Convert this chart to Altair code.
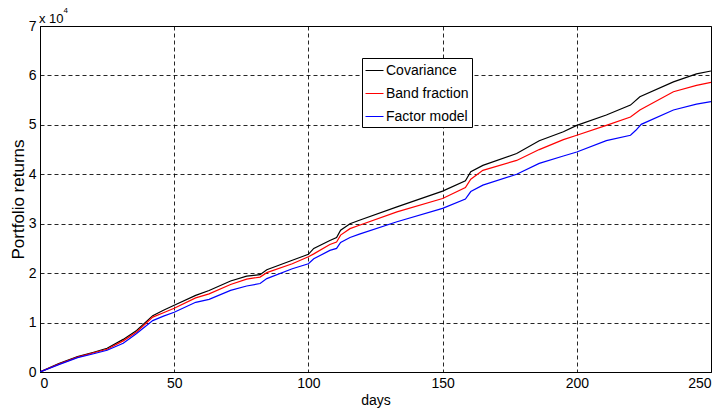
import altair as alt
import pandas as pd

series_names = ["Covariance", "Band fraction", "Factor model"]
series_colors = ["#000000", "#ff0000", "#0000ff"]

cov_days = [0, 7, 14, 20, 25, 31, 36, 42, 46, 50, 58, 63, 71, 77, 82, 84.5, 94, 100, 102, 108, 110.5, 112, 115.5, 119, 133, 150, 158.5, 160.5, 165, 177.6, 186, 195, 200, 211, 220, 223.5, 236, 244.6, 250]
cov_vals = [0, 0.17, 0.31, 0.40, 0.48, 0.66, 0.84, 1.14, 1.25, 1.35, 1.55, 1.65, 1.84, 1.94, 1.97, 2.07, 2.26, 2.38, 2.50, 2.66, 2.72, 2.87, 3.00, 3.07, 3.34, 3.66, 3.87, 4.05, 4.18, 4.42, 4.68, 4.86, 4.99, 5.20, 5.40, 5.57, 5.87, 6.03, 6.09]

band_days = [0, 7, 14, 20, 25, 31, 36, 42, 46, 50, 58, 63, 71, 77, 82, 84.5, 94, 100, 102, 108, 110.5, 112, 115.5, 119, 133, 150, 158.5, 160.5, 165, 177.6, 186, 195, 200, 211, 220, 223.5, 236, 244.6, 250]
band_vals = [0, 0.16, 0.30, 0.39, 0.46, 0.63, 0.81, 1.11, 1.20, 1.29, 1.50, 1.58, 1.77, 1.88, 1.92, 2.01, 2.19, 2.33, 2.39, 2.58, 2.63, 2.77, 2.90, 2.97, 3.24, 3.51, 3.73, 3.90, 4.08, 4.28, 4.50, 4.70, 4.79, 4.99, 5.16, 5.30, 5.67, 5.80, 5.86]

fac_days = [0, 7, 14, 20, 25, 31, 36, 42, 46, 50, 58, 63, 71, 77, 82, 84.5, 94, 100, 102, 108, 110.5, 112, 115.5, 119, 133, 150, 158.5, 160.5, 165, 177.6, 186, 195, 200, 211, 220, 222, 224, 236, 244.6, 250]
fac_vals = [0, 0.15, 0.29, 0.37, 0.44, 0.58, 0.78, 1.04, 1.13, 1.21, 1.41, 1.47, 1.65, 1.74, 1.79, 1.89, 2.09, 2.19, 2.29, 2.46, 2.50, 2.62, 2.72, 2.79, 3.04, 3.31, 3.50, 3.65, 3.78, 4.00, 4.22, 4.37, 4.45, 4.68, 4.79, 4.89, 5.01, 5.30, 5.42, 5.47]

x_ticks = [0, 50, 100, 150, 200, 250]
y_ticks = [0, 1, 2, 3, 4, 5, 6, 7]

rows = []
for name, days, vals in zip(series_names, [cov_days, band_days, fac_days], [cov_vals, band_vals, fac_vals]):
    for d, v in zip(days, vals):
        rows.append({"day": d, "ret": v, "series": name})
df = pd.DataFrame(rows)

FONT = "Liberation Sans"

lines = alt.Chart(df).mark_line(strokeWidth=1.2, clip=True).encode(
    x=alt.X("day:Q", scale=alt.Scale(domain=[0, 250], nice=False),
            axis=alt.Axis(values=x_ticks, title="days", format="d")),
    y=alt.Y("ret:Q", scale=alt.Scale(domain=[0, 7], nice=False),
            axis=alt.Axis(values=y_ticks, title="Portfolio returns", format="d")),
    color=alt.Color("series:N",
                    scale=alt.Scale(domain=series_names, range=series_colors),
                    legend=alt.Legend(title=None, orient="none", legendX=322, legendY=32,
                                      strokeColor="black", fillColor="white", padding=3,
                                      symbolType="stroke", symbolStrokeWidth=1, symbolSize=324,
                                      labelFontSize=14, labelFont=FONT, labelColor="black",
                                      labelOffset=2, rowPadding=6, cornerRadius=0)),
    detail="series:N",
)

exp_text = ["x 10"]
sup_text = ["4"]
exp = alt.Chart(pd.DataFrame({"t": exp_text})).mark_text(
    align="left", baseline="alphabetic", fontSize=13, font=FONT, color="black"
).encode(text="t:N", x=alt.value(-1), y=alt.value(-3))
sup = alt.Chart(pd.DataFrame({"t": sup_text})).mark_text(
    align="left", baseline="alphabetic", fontSize=8, font=FONT, color="black"
).encode(text="t:N", x=alt.value(23.5), y=alt.value(-13))

chart = alt.layer(lines, exp, sup).properties(
    width=671, height=346,
    autosize=alt.AutoSizeParams(type="none"),
    padding={"left": 40, "top": 26, "right": 11, "bottom": 42},
    background="white",
).configure_view(
    stroke="black", strokeWidth=1
).configure_axis(
    domainColor="black", domainWidth=1,
    grid=True, gridColor="black", gridDash=[4, 3], gridWidth=1, gridOpacity=0.85,
    ticks=False, labelFont=FONT, labelFontSize=14, labelColor="black",
    titleFont=FONT, titleColor="black", titleFontWeight="normal",
).configure_axisX(
    labelPadding=4, titleFontSize=14, titlePadding=3,
).configure_axisY(
    labelPadding=4, titleFontSize=17, titlePadding=1,
)

chart.save("out.html", embed_options={"renderer": "svg", "actions": False})
